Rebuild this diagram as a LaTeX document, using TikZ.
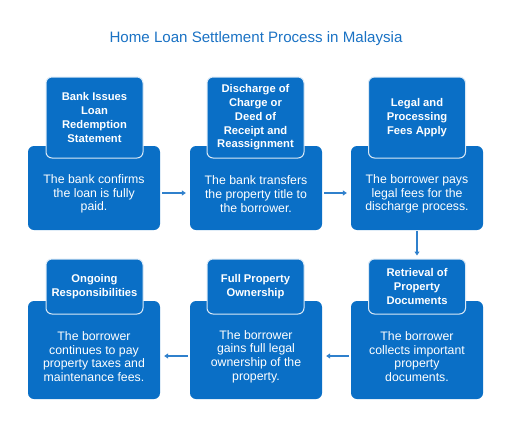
\documentclass[tikz,border=0pt]{standalone}
\usepackage{fontspec}
\setmainfont{Liberation Sans}
\usetikzlibrary{arrows.meta}
\definecolor{boxblue}{HTML}{0A6FC6}
\definecolor{titleblue}{HTML}{1A72C4}
\definecolor{arrblue}{HTML}{2F80CC}
\begin{document}
\begin{tikzpicture}[x=1pt,y=-1pt,
  bigbox/.style={fill=boxblue,rounded corners=6pt,minimum width=132pt,inner sep=0pt},
  headbox/.style={fill=boxblue,draw=white!85!boxblue,line width=1pt,rounded corners=6pt,minimum width=97pt,text=white,font=\bfseries\fontsize{11.2}{13.7}\selectfont,align=center,inner sep=0pt},
  bodytext/.style={text=white,font=\fontsize{12.3}{13.7}\selectfont,align=center,inner sep=0pt},
  arr/.style={draw=arrblue,line width=1.1pt,-{Triangle[length=4pt,width=5pt]}}]
\useasboundingbox (0,0) rectangle (512,442);
\node[font=\fontsize{15.1}{18}\selectfont,text=titleblue] (title) at (256,39) {Home Loan Settlement Process in Malaysia};
% row 1
\node[bigbox,minimum height=84pt] (b1) at (94,188) {};
\node[bigbox,minimum height=84pt] (b2) at (256,188) {};
\node[bigbox,minimum height=84pt] (b3) at (417,188) {};
\node[headbox,minimum height=81pt] (t1) at (94.5,117.5) {Bank Issues\\Loan\\Redemption\\Statement};
\node[headbox,minimum height=81pt] (t2) at (255.5,117.5) {Discharge of\\Charge or\\Deed of\\Receipt and\\Reassignment};
\node[headbox,minimum height=81pt] (t3) at (417,117.5) {Legal and\\Processing\\Fees Apply};
\node[bodytext] (d1) at (94,194) {The bank confirms\\the loan is fully\\paid.};
\node[bodytext] (d2) at (256,194) {The bank transfers\\the property title to\\the borrower.};
\node[bodytext] (d3) at (417,194) {The borrower pays\\legal fees for the\\discharge process.};
% row 2
\node[bigbox,minimum height=98pt] (b6) at (94,350) {};
\node[bigbox,minimum height=98pt] (b5) at (256,350) {};
\node[bigbox,minimum height=98pt] (b4) at (417,350) {};
\node[headbox,minimum height=55pt] (t6) at (94.5,286.5) {Ongoing\\Responsibilities};
\node[headbox,minimum height=55pt] (t5) at (255.5,286.5) {Full Property\\Ownership};
\node[headbox,minimum height=55pt] (t4) at (417,286.5) {Retrieval of\\Property\\Documents};
\node[bodytext] (d6) at (94,356.5) {The borrower\\continues to pay\\property taxes and\\maintenance fees.};
\node[bodytext] (d5) at (256,356.5) {The borrower\\gains full legal\\ownership of the\\property.};
\node[bodytext] (d4) at (417,356.5) {The borrower\\collects important\\property\\documents.};
% arrows
\draw[arr] ([xshift=2pt,yshift=-5pt]b1.east) -- ([xshift=-4pt,yshift=-5pt]b2.west);
\draw[arr] ([xshift=2pt,yshift=-5pt]b2.east) -- ([xshift=-4pt,yshift=-5pt]b3.west);
\draw[arr] ([yshift=-1pt]b3.south) -- ([yshift=3pt]t4.north);
\draw[arr] ([xshift=-2pt,yshift=-6pt]b4.west) -- ([xshift=4pt,yshift=-6pt]b5.east);
\draw[arr] ([xshift=-2pt,yshift=-6pt]b5.west) -- ([xshift=4pt,yshift=-6pt]b6.east);
\end{tikzpicture}
\end{document}
